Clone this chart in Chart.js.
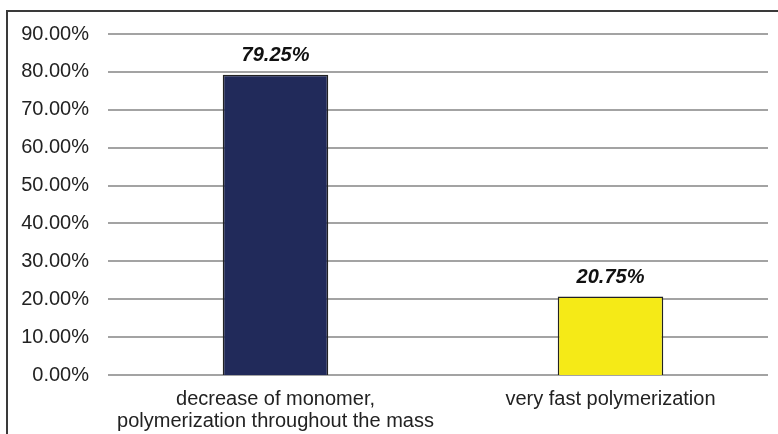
<!DOCTYPE html>
<html>
<head>
<meta charset="utf-8">
<script src="https://cdn.jsdelivr.net/npm/chart.js@4"></script>
<style>
  html, body { margin: 0; padding: 0; background: #fff; }
  #wrap { width: 778px; height: 434px; position: relative; }
</style>
</head>
<body>
<div id="wrap"><canvas id="chart"></canvas></div>
<script>
// Chart data
const categories = [
  ['decrease of monomer,', 'polymerization throughout the mass'],
  'very fast polymerization'
];
const shares = [79.25, 20.75];
const barColors = ['#212a5a', '#f5ea17'];
const yTicks = [0, 10, 20, 30, 40, 50, 60, 70, 80, 90];

// Frame lines (left + top) like the original figure box
const framePlugin = {
  id: 'frame',
  beforeDraw(chart) {
    const ctx = chart.ctx;
    ctx.save();
    ctx.strokeStyle = '#3a3a3a';
    ctx.lineWidth = 2;
    ctx.beginPath();
    ctx.moveTo(7, chart.height);
    ctx.lineTo(7, 11);
    ctx.lineTo(chart.width, 11);
    ctx.stroke();
    ctx.restore();
  }
};

// Horizontal gridlines stop a bit short of the right edge (plot area runs wider)
const gridPlugin = {
  id: 'hgrid',
  beforeDatasetsDraw(chart) {
    const ctx = chart.ctx;
    const y = chart.scales.y;
    const area = chart.chartArea;
    ctx.save();
    ctx.strokeStyle = '#a3a3a3';
    ctx.lineWidth = 2;
    yTicks.forEach(v => {
      const py = Math.round(y.getPixelForValue(v));
      ctx.beginPath();
      ctx.moveTo(area.left, py);
      ctx.lineTo(area.right - 10, py);
      ctx.stroke();
    });
    ctx.restore();
  }
};

// Value labels above bars
const valueLabels = {
  id: 'valueLabels',
  afterDatasetsDraw(chart) {
    const ctx = chart.ctx;
    const meta = chart.getDatasetMeta(0);
    ctx.save();
    ctx.font = 'italic bold 20px "Liberation Sans", Arial, sans-serif';
    ctx.fillStyle = '#111';
    ctx.textAlign = 'center';
    ctx.textBaseline = 'bottom';
    meta.data.forEach((bar, i) => {
      ctx.fillText(shares[i].toFixed(2) + '%', bar.x, bar.y - 9);
    });
    ctx.restore();
  }
};

new Chart(document.getElementById('chart'), {
  type: 'bar',
  data: {
    labels: categories,
    datasets: [{
      data: shares,
      backgroundColor: barColors,
      borderColor: '#222',
      borderWidth: 1.5,
      categoryPercentage: 1,
      barPercentage: 0.315
    }]
  },
  options: {
    responsive: true,
    maintainAspectRatio: false,
    animation: false,
    layout: { padding: { top: 34, right: 0, bottom: 0, left: 0 } },
    plugins: { legend: { display: false }, tooltip: { enabled: false } },
    scales: {
      x: {
        grid: { display: false },
        border: { display: false },
        ticks: {
          color: '#222',
          padding: 5,
          maxRotation: 0,
          font: { family: '"Liberation Sans", Arial, sans-serif', size: 20, lineHeight: 1.1 }
        },
        afterFit(scale) { scale.height = 59; }
      },
      y: {
        min: 0,
        max: 90,
        afterBuildTicks(scale) { scale.ticks = yTicks.map(v => ({ value: v })); },
        grid: { display: false, drawTicks: false },
        border: { display: false },
        ticks: {
          color: '#222',
          padding: 19,
          font: { family: '"Liberation Sans", Arial, sans-serif', size: 20 },
          callback: v => v.toFixed(2) + '%'
        },
        afterFit(scale) { scale.width = 108; }
      }
    }
  },
  plugins: [framePlugin, gridPlugin, valueLabels]
});
</script>
</body>
</html>
